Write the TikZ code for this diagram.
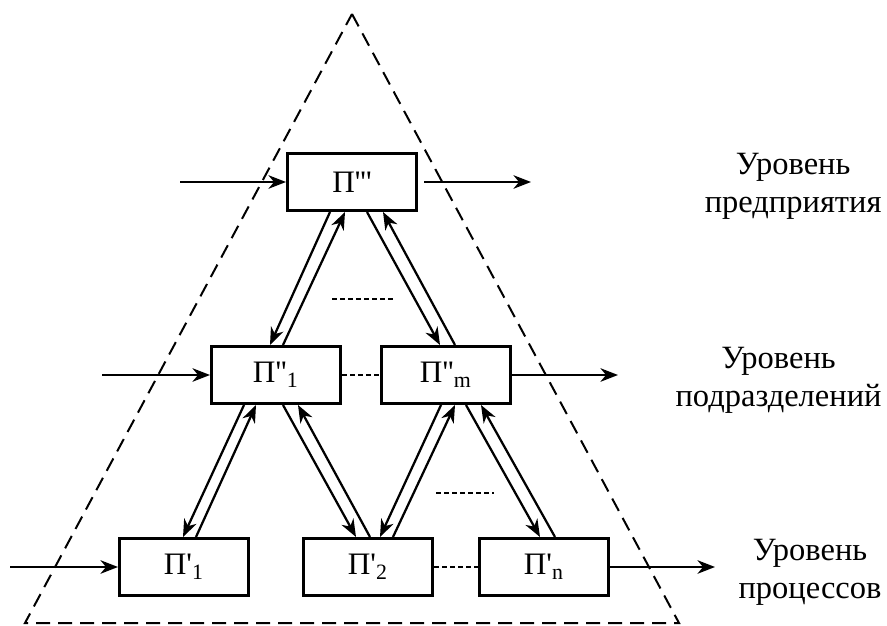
\documentclass[tikz,border=0pt]{standalone}
\usepackage{fontspec}
\setmainfont{Liberation Serif}
\usetikzlibrary{arrows.meta, calc, positioning}
\tikzset{
    lvlbox/.style={draw, line width=1.2pt, minimum width=51.6pt, minimum height=22.8pt,
        inner sep=0pt, font=\fontsize{12.5}{15}\selectfont},
    flow/.style={line width=0.9pt, -{Stealth[length=7pt, width=5.4pt, inset=2.2pt]}},
    gap/.style={line width=0.6pt, dash pattern=on 2pt off 1.2pt},
    border/.style={line width=0.8pt, dash pattern=on 5.6pt off 3.2pt},
    lvltext/.style={align=center, anchor=east, inner sep=0pt, font=\fontsize{13}{15.2}\selectfont}
}
\newcommand{\pq}{\textquotesingle}

\begin{document}
\begin{tikzpicture}[x=0.4pt, y=-0.4pt]
    \useasboundingbox (0,0) rectangle (887,626);
    % outer triangle
    \coordinate (apex) at (352,14);
    \coordinate (bl) at (25,623);
    \coordinate (br) at (679,623);
    \draw[border] (apex) -- (br) -- (bl) -- cycle;

    % levels
    \node[lvlbox] (p3) at (352,182) {П\pq\pq\pq};
    \node[lvlbox] (p21) at (276,375) {П\pq\pq\textsubscript{1}};
    \node[lvlbox] (p2m) at (446,375) {П\pq\pq\textsubscript{m}};
    \node[lvlbox] (p11) at (184,567) {П\pq\textsubscript{1}};
    \node[lvlbox] (p12) at (368,567) {П\pq\textsubscript{2}};
    \node[lvlbox] (p1n) at (544,567) {П\pq\textsubscript{n}};

    % inputs and outputs
    \coordinate (in3) at (180,182);
    \coordinate (out3) at (531,182);
    \coordinate (in2) at (102,375);
    \coordinate (out2) at (618,375);
    \coordinate (in1) at (10,567);
    \coordinate (out1) at (715,567);
    \draw[flow] (in3) -- (p3);
    \draw[flow] ($(p3.east)+(6,0)$) -- (out3);
    \draw[flow] (in2) -- (p21);
    \draw[flow] (p2m) -- (out2);
    \draw[flow] (in1) -- (p11);
    \draw[flow] (p1n) -- (out1);

    % top -- middle
    \draw[flow] ($(p3.south)+(-22,0)$) -- ($(p21.north)+(-6,0)$);
    \draw[flow] ($(p21.north)+(7,0)$) -- ($(p3.south)+(-7,0)$);
    \draw[flow] ($(p3.south)+(15,0)$) -- ($(p2m.north)+(-6,0)$);
    \draw[flow] ($(p2m.north)+(9,0)$) -- ($(p3.south)+(31,0)$);

    % middle -- bottom
    \draw[flow] ($(p21.south)+(-32,0)$) -- ($(p11.north)+(-1,0)$);
    \draw[flow] ($(p11.north)+(12,0)$) -- ($(p21.south)+(-20,0)$);
    \draw[flow] ($(p21.south)+(7,0)$) -- ($(p12.north)+(-12,0)$);
    \draw[flow] ($(p12.north)+(2,0)$) -- ($(p21.south)+(22,0)$);
    \draw[flow] ($(p2m.south)+(-5,0)$) -- ($(p12.north)+(12,0)$);
    \draw[flow] ($(p12.north)+(25,0)$) -- ($(p2m.south)+(9,0)$);
    \draw[flow] ($(p2m.south)+(20,0)$) -- ($(p1n.north)+(-4,0)$);
    \draw[flow] ($(p1n.north)+(11,0)$) -- ($(p2m.south)+(35,0)$);

    % omitted units
    \draw[gap] (p21) -- (p2m);
    \draw[gap] (p12) -- (p1n);
    \draw[gap] (332,299) -- (393,299);
    \draw[gap] (436,493) -- (494,493);

    % level names
    \node[lvltext] (l3) at (882,186) {Уровень\\предприятия};
    \node[lvltext] (l2) at (882,380) {Уровень\\подразделений};
    \node[lvltext] (l1) at (882,572) {Уровень\\процессов};
\end{tikzpicture}
\end{document}
